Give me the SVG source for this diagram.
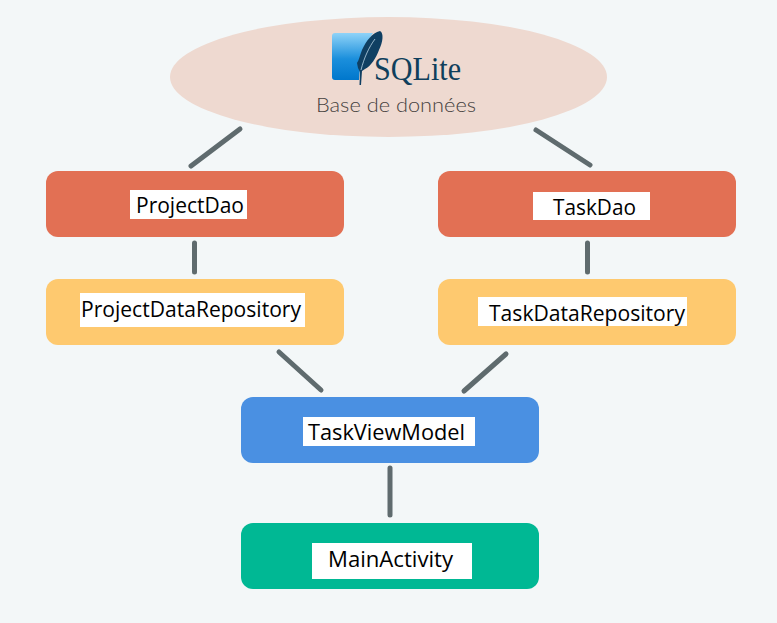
<svg xmlns="http://www.w3.org/2000/svg" width="777" height="623" viewBox="0 0 777 623">
<style>
.bg{fill:#f3f7f8}
.box{rx:12px;ry:12px}
.red{fill:#e27054}
.yel{fill:#fec96f}
.blu{fill:#4a90e2}
.grn{fill:#00b894}
.lab{fill:#fff}
.t{font-family:"Open Sans","Noto Sans","DejaVu Sans",sans-serif;font-size:21.5px;fill:#000}
.c{fill:none;stroke:#5f6b6e;stroke-width:5;stroke-linecap:round}
</style>
<defs>
<linearGradient id="sq" x1="0" y1="0" x2="0" y2="1">
<stop offset="0" stop-color="#8fd3f8"/><stop offset="0.55" stop-color="#1b8fdc"/><stop offset="1" stop-color="#0077cc"/>
</linearGradient>
</defs>
<rect class="bg" width="777" height="623"/>
<g id="connectors">
<line class="c" x1="240" y1="129" x2="191" y2="166"/>
<line class="c" x1="536" y1="130" x2="590" y2="165"/>
<line class="c" x1="194.500" y1="243" x2="194.500" y2="272"/>
<line class="c" x1="587.500" y1="243" x2="587.500" y2="272"/>
<line class="c" x1="279" y1="352" x2="321" y2="390"/>
<line class="c" x1="506" y1="354" x2="464" y2="391"/>
<line class="c" x1="390" y1="468" x2="390" y2="515"/>
</g>
<g id="sqlite">
<ellipse cx="388.5" cy="77" rx="218.5" ry="60" fill="#eed9d0"/>
<path d="M335 33H373C365 45 360 62 359 80H335Q332 80 332 77V36Q332 33 335 33Z" fill="url(#sq)"/>
<path d="M380 31C384 33 383 42 379 50C376 58 371 66 365 69L362 71L361 85L359.500 85L360 72L358 68L357 63C359 60 360 55 362 50C366 41 372 33 380 31Z" fill="#0f3f62"/>
<path d="M375 39C369 47 364 58 361 70" fill="none" stroke="#b9d4e4" stroke-width="0.8"/>
<text x="374" y="80" font-family="Liberation Serif,serif" font-size="33" fill="#0f3f5c" textLength="87" lengthAdjust="spacingAndGlyphs">SQLite</text>
<text x="316" y="112" font-family="Lato,sans-serif" font-weight="300" font-size="20.500" fill="#45413e" textLength="160" lengthAdjust="spacingAndGlyphs">Base de données</text>
</g>
<g id="project-dao">
<rect class="box red" x="46" y="171" width="298" height="66"/>
<rect class="lab" x="130" y="190" width="117" height="29"/>
<text class="t" x="136" y="213" textLength="108" lengthAdjust="spacingAndGlyphs">ProjectDao</text>
</g>
<g id="task-dao">
<rect class="box red" x="438" y="171" width="298" height="66"/>
<rect class="lab" x="533" y="192" width="117" height="28"/>
<text class="t" x="553" y="215" textLength="83" lengthAdjust="spacingAndGlyphs">TaskDao</text>
</g>
<g id="project-data-repository">
<rect class="box yel" x="46" y="279" width="298" height="66"/>
<rect class="lab" x="80" y="293" width="225" height="34"/>
<text class="t" x="81" y="317" textLength="220" lengthAdjust="spacingAndGlyphs">ProjectDataRepository</text>
</g>
<g id="task-data-repository">
<rect class="box yel" x="438" y="279" width="298" height="66"/>
<rect class="lab" x="478" y="297" width="209" height="29"/>
<text class="t" x="489" y="321" textLength="196" lengthAdjust="spacingAndGlyphs">TaskDataRepository</text>
</g>
<g id="task-view-model">
<rect class="box blu" x="241" y="397" width="298" height="66"/>
<rect class="lab" x="303" y="417" width="172" height="29"/>
<text class="t" x="308" y="440" textLength="157" lengthAdjust="spacingAndGlyphs">TaskViewModel</text>
</g>
<g id="main-activity">
<rect class="box grn" x="241" y="523" width="298" height="66"/>
<rect class="lab" x="312" y="543" width="160" height="36"/>
<text class="t" x="328" y="567" textLength="125" lengthAdjust="spacingAndGlyphs">MainActivity</text>
</g>
</svg>
